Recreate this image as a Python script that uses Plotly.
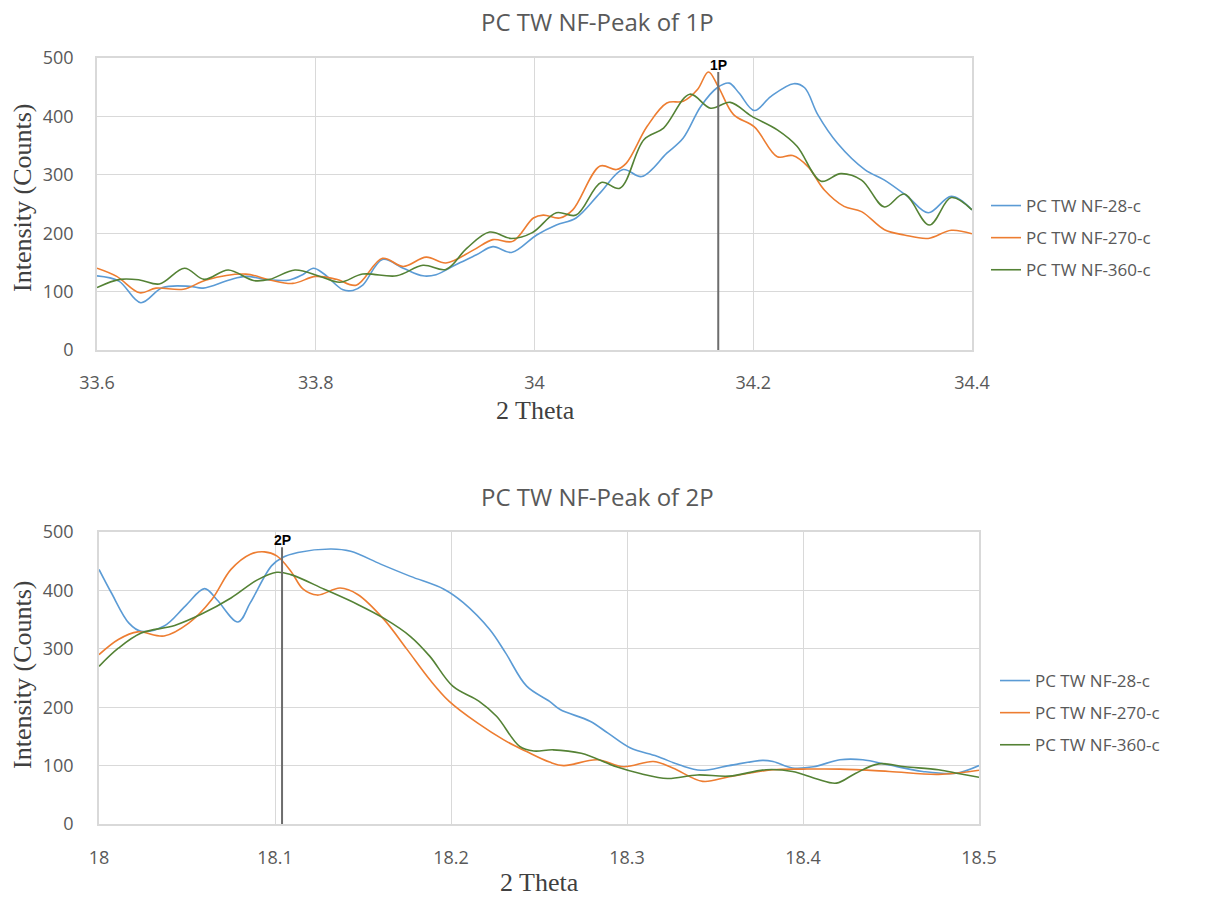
import plotly.graph_objects as go

# ---------------- Top chart data (Peak of 1P) ----------------
t_blue_x = [33.600, 33.620, 33.640, 33.660, 33.685, 33.697, 33.721, 33.736, 33.758, 33.776, 33.788, 33.798,
            33.807, 33.825, 33.834, 33.843, 33.861, 33.880, 33.898, 33.910, 33.928, 33.947, 33.962, 33.979,
            34.002, 34.020, 34.038, 34.060, 34.081, 34.098, 34.121, 34.136, 34.152, 34.167, 34.178, 34.187,
            34.201, 34.216, 34.237, 34.247, 34.259, 34.277, 34.302, 34.320, 34.341, 34.360, 34.381, 34.400]
t_blue_y = [127, 118, 81, 107, 109, 106, 120, 126, 120, 120, 129, 140,
            131, 103, 102, 111, 155, 140, 127, 129, 146, 163, 177, 167,
            197, 214, 226, 269, 309, 297, 337, 363, 417, 449, 457, 440,
            410, 434, 456, 449, 403, 354, 309, 291, 263, 235, 263, 240]

t_orange_x = [33.600, 33.618, 33.639, 33.654, 33.679, 33.700, 33.736, 33.758, 33.779, 33.800, 33.819, 33.837,
              33.861, 33.880, 33.901, 33.919, 33.944, 33.962, 33.980, 33.999, 34.008, 34.023, 34.035, 34.060,
              34.075, 34.084, 34.103, 34.121, 34.136, 34.149, 34.159, 34.168, 34.182, 34.201, 34.222, 34.236,
              34.250, 34.265, 34.283, 34.299, 34.320, 34.338, 34.360, 34.381, 34.400]
t_orange_y = [140, 126, 98, 106, 104, 120, 130, 120, 114, 126, 121, 111,
              157, 143, 159, 149, 171, 189, 186, 226, 231, 226, 240, 315,
              309, 320, 383, 423, 426, 446, 476, 451, 403, 382, 331, 333,
              314, 274, 246, 237, 206, 197, 191, 205, 199]

t_green_x = [33.600, 33.621, 33.639, 33.657, 33.680, 33.698, 33.720, 33.743, 33.758, 33.781, 33.804, 33.822,
             33.843, 33.874, 33.898, 33.919, 33.938, 33.959, 33.979, 33.998, 34.020, 34.038, 34.061, 34.078,
             34.100, 34.118, 34.142, 34.161, 34.179, 34.198, 34.222, 34.240, 34.262, 34.280, 34.299, 34.320,
             34.338, 34.361, 34.381, 34.400]
t_green_y = [107, 121, 120, 113, 140, 121, 137, 119, 121, 137, 126, 116,
             130, 127, 145, 138, 174, 202, 191, 201, 235, 231, 287, 277,
             360, 380, 438, 414, 424, 401, 377, 349, 289, 302, 291, 245,
             267, 214, 261, 240]

# ---------------- Bottom chart data (Peak of 2P) ----------------
b_blue_x = [18.000, 18.007, 18.017, 18.024, 18.037, 18.049, 18.060, 18.067, 18.079, 18.086, 18.098, 18.104,
            18.113, 18.132, 18.143, 18.160, 18.177, 18.196, 18.207, 18.222, 18.231, 18.243, 18.256, 18.262,
            18.279, 18.289, 18.302, 18.317, 18.330, 18.342, 18.358, 18.377, 18.383, 18.394, 18.406, 18.421,
            18.434, 18.449, 18.468, 18.487, 18.500]
b_blue_y = [436, 396, 344, 330, 339, 373, 403, 384, 346, 379, 442, 456,
            465, 471, 467, 445, 424, 402, 379, 333, 293, 236, 210, 196,
            176, 156, 130, 116, 101, 92, 100, 109, 107, 96, 98, 110,
            110, 101, 90, 87, 100]

b_orange_x = [18.000, 18.011, 18.022, 18.037, 18.051, 18.064, 18.075, 18.086, 18.094, 18.101, 18.109, 18.116,
              18.124, 18.137, 18.147, 18.162, 18.175, 18.188, 18.199, 18.215, 18.230, 18.243, 18.256, 18.264,
              18.283, 18.298, 18.315, 18.326, 18.343, 18.358, 18.383, 18.400, 18.421, 18.449, 18.477, 18.500]
b_orange_y = [290, 316, 329, 322, 344, 384, 436, 462, 466, 459, 433, 402,
              392, 404, 393, 350, 299, 247, 210, 173, 144, 124, 106, 100,
              110, 98, 107, 96, 73, 81, 93, 94, 94, 90, 85, 92]

b_green_x = [18.000, 18.011, 18.024, 18.043, 18.058, 18.075, 18.090, 18.101, 18.109, 18.128, 18.147, 18.162,
             18.177, 18.188, 18.201, 18.216, 18.226, 18.239, 18.247, 18.258, 18.274, 18.294, 18.308, 18.323,
             18.340, 18.358, 18.379, 18.394, 18.408, 18.419, 18.430, 18.443, 18.458, 18.477, 18.489, 18.500]
b_green_y = [270, 301, 327, 340, 359, 387, 418, 431, 427, 402, 376, 352,
             321, 287, 236, 210, 184, 133, 125, 127, 121, 98, 86, 78,
             84, 82, 93, 90, 77, 70, 87, 103, 98, 93, 86, 80]

series_names = ["PC TW NF-28-c", "PC TW NF-270-c", "PC TW NF-360-c"]
colors = ["#5B9BD5", "#ED7D31", "#548235"]

peak1_x, peak1_top = 34.168, 476
peak2_x, peak2_top = 18.104, 474

W, H = 1205, 899

def px_x(p):
    return p / W

def px_y(p):
    return 1 - p / H

fig = go.Figure()

top = [(t_blue_x, t_blue_y), (t_orange_x, t_orange_y), (t_green_x, t_green_y)]
bot = [(b_blue_x, b_blue_y), (b_orange_x, b_orange_y), (b_green_x, b_green_y)]

for i, (xs, ys) in enumerate(top):
    fig.add_trace(go.Scatter(x=xs, y=ys, mode="lines", name=series_names[i],
                             line=dict(color=colors[i], width=1.6, shape="spline", smoothing=1.0),
                             xaxis="x", yaxis="y", legend="legend", legendgroup="t%d" % i))
for i, (xs, ys) in enumerate(bot):
    fig.add_trace(go.Scatter(x=xs, y=ys, mode="lines", name=series_names[i],
                             line=dict(color=colors[i], width=1.6, shape="spline", smoothing=1.0),
                             xaxis="x2", yaxis="y2", legend="legend2", legendgroup="b%d" % i))

# Peak marker lines
fig.add_trace(go.Scatter(x=[peak1_x, peak1_x], y=[0, peak1_top], mode="lines",
                         line=dict(color="#6d6d6d", width=2), showlegend=False,
                         xaxis="x", yaxis="y", hoverinfo="skip"))
fig.add_trace(go.Scatter(x=[peak2_x, peak2_x], y=[0, peak2_top], mode="lines",
                         line=dict(color="#6d6d6d", width=2), showlegend=False,
                         xaxis="x2", yaxis="y2", hoverinfo="skip"))

grid = "#d9d9d9"
sans = "Open Sans, Liberation Sans, sans-serif"
tickfont = dict(family=sans, size=18, color="#595959")
titlefont = dict(family="Liberation Serif, serif", size=26, color="#404040")

axis_common = dict(showgrid=True, gridcolor=grid, gridwidth=1.2, zeroline=False,
                   showline=True, linecolor=grid, linewidth=1.5, mirror=True,
                   ticks="", tickfont=tickfont, automargin=False)

fig.update_layout(
    width=W, height=H,
    margin=dict(l=0, r=0, t=0, b=0),
    paper_bgcolor="white", plot_bgcolor="white",
    xaxis=dict(domain=[px_x(97), px_x(972)], range=[33.6, 34.4], tickvals=[33.6, 33.8, 34.0, 34.2, 34.4],
               ticktext=["33.6", "33.8", "34", "34.2", "34.4"], anchor="y", ticklabelstandoff=16, **axis_common),
    yaxis=dict(domain=[px_y(350), px_y(58)], range=[0, 500], dtick=100, anchor="x",
               ticklabelstandoff=18, **axis_common),
    xaxis2=dict(domain=[px_x(99), px_x(979)], range=[18.0, 18.5], tickvals=[18.0, 18.1, 18.2, 18.3, 18.4, 18.5],
                ticktext=["18", "18.1", "18.2", "18.3", "18.4", "18.5"], anchor="y2", ticklabelstandoff=17,
                **axis_common),
    yaxis2=dict(domain=[px_y(824), px_y(532)], range=[0, 500], dtick=100, anchor="x2",
                ticklabelstandoff=20, **axis_common),
    legend=dict(x=px_x(986), y=px_y(188), xanchor="left", yanchor="top",
                font=dict(family=sans, size=17, color="#595959"),
                itemwidth=30, tracegroupgap=7, bgcolor="rgba(0,0,0,0)"),
    legend2=dict(x=px_x(995), y=px_y(663), xanchor="left", yanchor="top",
                 font=dict(family=sans, size=17, color="#595959"),
                 itemwidth=30, tracegroupgap=7, bgcolor="rgba(0,0,0,0)"),
    showlegend=True,
)

def ann(text, x, y, font, angle=0):
    return dict(text=text, x=px_x(x), y=px_y(y), xref="paper", yref="paper", xanchor="center",
                yanchor="middle", textangle=angle, showarrow=False, font=font)

title_font = dict(family=sans, size=24, color="#595959")
annotations = [
    ann("PC TW NF-Peak of 1P", 597, 21, title_font),
    ann("PC TW NF-Peak of 2P", 597, 496, title_font),
    ann("Intensity (Counts)", 22, 198, titlefont, -90),
    ann("Intensity (Counts)", 22, 675, titlefont, -90),
    ann("2 Theta", 535, 411, titlefont),
    ann("2 Theta", 539, 882, titlefont),
    dict(text="<b>1P</b>", x=peak1_x, y=peak1_top, xref="x", yref="y", yanchor="bottom", xanchor="center",
         showarrow=False, yshift=-3, font=dict(family="Liberation Sans, Arial, sans-serif", size=14, color="black")),
    dict(text="<b>2P</b>", x=peak2_x, y=peak2_top, xref="x2", yref="y2", yanchor="bottom", xanchor="center",
         showarrow=False, yshift=-3, font=dict(family="Liberation Sans, Arial, sans-serif", size=14, color="black")),
]
fig.update_layout(annotations=annotations)

fig.write_html("out.html")
